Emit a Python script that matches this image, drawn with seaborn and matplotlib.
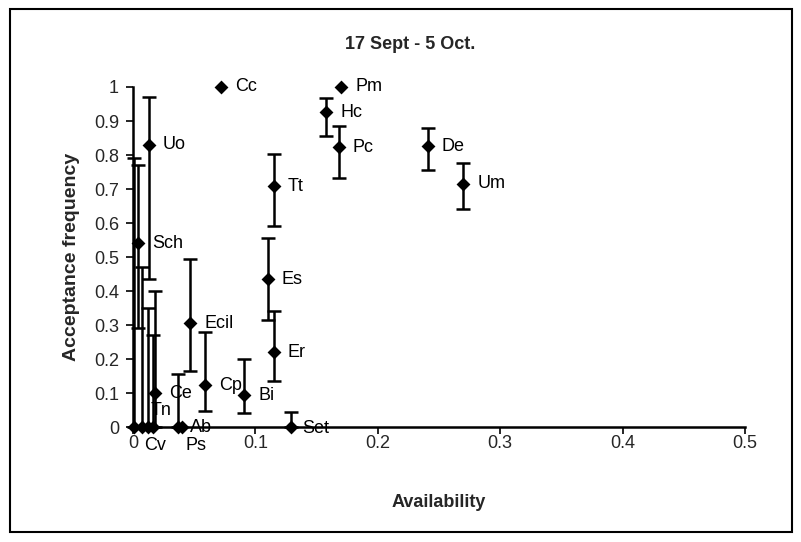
import matplotlib
matplotlib.use("Agg")
import matplotlib.pyplot as plt
import matplotlib.ticker as mticker
from matplotlib.patches import Rectangle
import seaborn as sns
import pandas as pd

# Prey items: availability vs. acceptance frequency with confidence limits
species = ["Cc", "Pm", "Hc", "Pc", "De", "Um", "Tt", "Es", "Er", "Bi", "Cp",
           "Ecil", "Ce", "Uo", "Sch", "Set", "Ab", "Ps", "Cv", "Tn", "", ""]
availability = [0.072, 0.170, 0.158, 0.168, 0.241, 0.270, 0.115, 0.110, 0.115,
                0.091, 0.059, 0.047, 0.018, 0.013, 0.004, 0.129, 0.040, 0.037,
                0.012, 0.016, 0.001, 0.007]
acceptance = [1.0, 1.0, 0.925, 0.823, 0.826, 0.716, 0.708, 0.434, 0.220,
              0.094, 0.123, 0.305, 0.100, 0.830, 0.540, 0.0, 0.0, 0.0,
              0.0, 0.0, 0.0, 0.0]
lower_limit = [1.0, 1.0, 0.855, 0.733, 0.757, 0.640, 0.590, 0.315, 0.135,
               0.040, 0.047, 0.165, 0.0, 0.435, 0.290, 0.0, 0.0, 0.0,
               0.0, 0.0, 0.0, 0.0]
upper_limit = [1.0, 1.0, 0.968, 0.885, 0.880, 0.776, 0.803, 0.555, 0.340,
               0.200, 0.280, 0.495, 0.400, 0.970, 0.770, 0.043, 0.0, 0.155,
               0.350, 0.270, 0.790, 0.470]

df = pd.DataFrame({"species": species, "availability": availability,
                   "acceptance": acceptance, "lo": lower_limit, "hi": upper_limit})

sns.set_style("ticks")
plt.rcParams["font.family"] = ["Liberation Sans", "DejaVu Sans"]

fig = plt.figure(figsize=(8.01, 5.42), dpi=100)
ax = fig.add_axes([0.166, 0.212, 0.764, 0.6275])

# confidence limits
has_err = (df["hi"] > df["acceptance"]) | (df["lo"] < df["acceptance"])
e = df[has_err]
ax.errorbar(e["availability"], e["acceptance"],
            yerr=[e["acceptance"] - e["lo"], e["hi"] - e["acceptance"]],
            fmt="none", ecolor="black", elinewidth=1.8, capsize=5, capthick=1.8,
            clip_on=False, zorder=2)

sns.scatterplot(data=df, x="availability", y="acceptance", marker="D", s=50,
                color="black", edgecolor="black", linewidth=0, ax=ax,
                clip_on=False, zorder=3)

# species labels (offsets in pixels)
label_offsets = {"Cv": (7, -18, "center"), "Ps": (18, -18, "center"),
                 "Tn": (-2, 17, "left"), "Ab": (8, 0, "left"),
                 "Set": (11, -1, "left")}
for _, r in df.iterrows():
    if not r["species"]:
        continue
    dx, dy, ha = label_offsets.get(r["species"], (14, 0, "left"))
    ax.annotate(r["species"], (r["availability"], r["acceptance"]),
                xytext=(dx, dy), textcoords="offset pixels", ha=ha, va="center",
                fontsize=13, color="black", annotation_clip=False, zorder=4)

ax.set_xlim(0, 0.5)
ax.set_ylim(0, 1)
ax.xaxis.set_major_locator(mticker.MultipleLocator(0.1))
ax.yaxis.set_major_locator(mticker.MultipleLocator(0.1))
ax.xaxis.set_major_formatter(mticker.FuncFormatter(lambda v, p: f"{v:g}"))
ax.yaxis.set_major_formatter(mticker.FuncFormatter(lambda v, p: f"{v:g}"))
ax.tick_params(axis="both", labelsize=13, length=5, width=1.2, color="black",
               direction="out", pad=5)
ax.tick_params(axis="x", pad=1)
for side in ("top", "right"):
    ax.spines[side].set_visible(False)
for side in ("left", "bottom"):
    ax.spines[side].set_linewidth(1.8)
    ax.spines[side].set_color("black")

ax.set_xlabel("Availability", fontsize=13, fontweight="bold", labelpad=30)
ax.set_ylabel("Acceptance frequency", fontsize=14, fontweight="bold", labelpad=10)
fig.text(0.512, 0.918, "17 Sept - 5 Oct.", ha="center", va="center",
         fontsize=13, fontweight="bold")

# chart frame
fig.patches.append(Rectangle((0.0125, 0.018), 0.976, 0.966, transform=fig.transFigure,
                             fill=False, edgecolor="black", linewidth=1.5))

fig.savefig("out.png", dpi=100, facecolor="white")
